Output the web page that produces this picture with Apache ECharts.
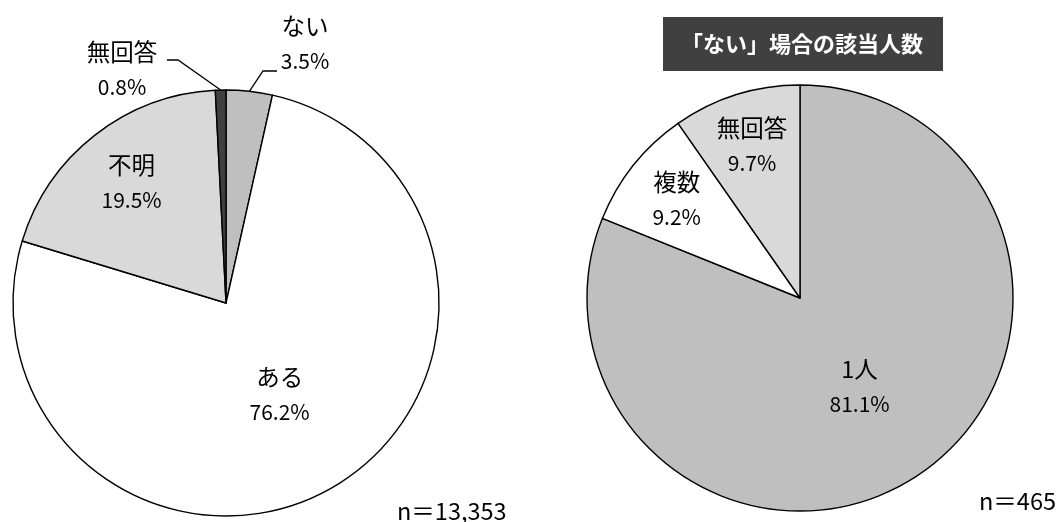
<!DOCTYPE html>
<html>
<head>
<meta charset="utf-8">
<script src="https://cdn.jsdelivr.net/npm/echarts@6/dist/echarts.min.js"></script>
<style>
html,body{margin:0;padding:0;background:#fff;}
#chart{width:1064px;height:522px;}
</style>
</head>
<body>
<div id="chart"></div>
<script>
// ---- data ----
const leftNames = ['ない', 'ある', '不明', '無回答'];
const leftValues = [3.5, 76.2, 19.5, 0.8];
const leftColors = ['#bfbfbf', '#ffffff', '#d9d9d9', '#404040'];
const leftN = 'n＝13,353';

const rightTitle = '「ない」場合の該当人数';
const rightNames = ['1人', '複数', '無回答'];
const rightValues = [81.1, 9.2, 9.7];
const rightColors = ['#bfbfbf', '#ffffff', '#d9d9d9'];
const rightN = 'n＝465';

// ---- layout ----
const R = 213;
const leftCenter = [226, 303];
const rightCenter = [800, 298];
const FONT = '"Noto Sans CJK JP", "Noto Sans", sans-serif';

function midAngle(values, i) {
  const sum = values.reduce((a, b) => a + b, 0);
  let before = 0;
  for (let k = 0; k < i; k++) before += values[k];
  return (before + values[i] / 2) / sum * Math.PI * 2;
}
function arcPoint(center, values, i, k) {
  const a = midAngle(values, i);
  return [center[0] + k * R * Math.sin(a), center[1] - k * R * Math.cos(a)];
}

// label placement: inside labels by radial factor, outside labels by explicit block centre + leader path
const leftPlace = [
  { out: [305, 44], line: [[263, 71], [277, 71]] },
  { k: 0.5 },
  { k: 0.72 },
  { out: [122, 70], line: [[178, 60], [167, 60]] }
];
const rightPlace = [{ k: 0.5 }, { k: 0.74 }, { k: 0.75 }];

const labelRich = {
  n: { fontFamily: FONT, fontSize: 23.5, color: '#000', lineHeight: 35 },
  v: { fontFamily: FONT, fontSize: 21, color: '#000', lineHeight: 35 }
};

function makeData(names, values, colors, place) {
  return names.map((nm, i) => {
    const outside = !!place[i].out;
    return {
      name: nm,
      value: values[i],
      itemStyle: { color: colors[i] },
      label: { position: outside ? 'outside' : 'inside' },
      labelLine: { show: outside, length: 10, length2: 10, lineStyle: { color: '#000', width: 1.3 } }
    };
  });
}

function layoutFor(center, values, place) {
  return function (params) {
    const p = place[params.dataIndex];
    if (p.out) {
      const start = arcPoint(center, values, params.dataIndex, 1);
      return {
        x: p.out[0], y: p.out[1], align: 'center', verticalAlign: 'middle',
        labelLinePoints: [start, p.line[0], p.line[1]]
      };
    }
    const pt = arcPoint(center, values, params.dataIndex, p.k);
    return { x: pt[0], y: pt[1], align: 'center', verticalAlign: 'middle' };
  };
}

function pieSeries(center, names, values, colors, place) {
  return {
    type: 'pie',
    center: center,
    radius: R,
    startAngle: 90,
    clockwise: true,
    avoidLabelOverlap: false,
    silent: true,
    animation: false,
    itemStyle: { borderColor: '#000', borderWidth: 1.4 },
    label: {
      show: true,
      formatter: '{n|{b}}\n{v|{c}%}',
      rich: labelRich,
      align: 'center'
    },
    emphasis: { disabled: true },
    labelLayout: layoutFor(center, values, place),
    data: makeData(names, values, colors, place)
  };
}

const chart = echarts.init(document.getElementById('chart'), null, { renderer: 'canvas' });
chart.setOption({
  backgroundColor: '#ffffff',
  animation: false,
  series: [
    pieSeries(leftCenter, leftNames, leftValues, leftColors, leftPlace),
    pieSeries(rightCenter, rightNames, rightValues, rightColors, rightPlace)
  ],
  graphic: [
    { type: 'rect', shape: { x: 663, y: 17, width: 280, height: 54 }, style: { fill: '#404040' }, silent: true },
    { type: 'text', x: 802, y: 44, style: { text: rightTitle, fill: '#fff', font: 'bold 22px ' + FONT, align: 'center', verticalAlign: 'middle' }, silent: true },
    { type: 'text', x: 397, y: 511, style: { text: leftN, fill: '#000', font: '23.5px ' + FONT, align: 'left', verticalAlign: 'middle' }, silent: true },
    { type: 'text', x: 979, y: 501, style: { text: rightN, fill: '#000', font: '23.5px ' + FONT, align: 'left', verticalAlign: 'middle' }, silent: true }
  ]
});
</script>
</body>
</html>
